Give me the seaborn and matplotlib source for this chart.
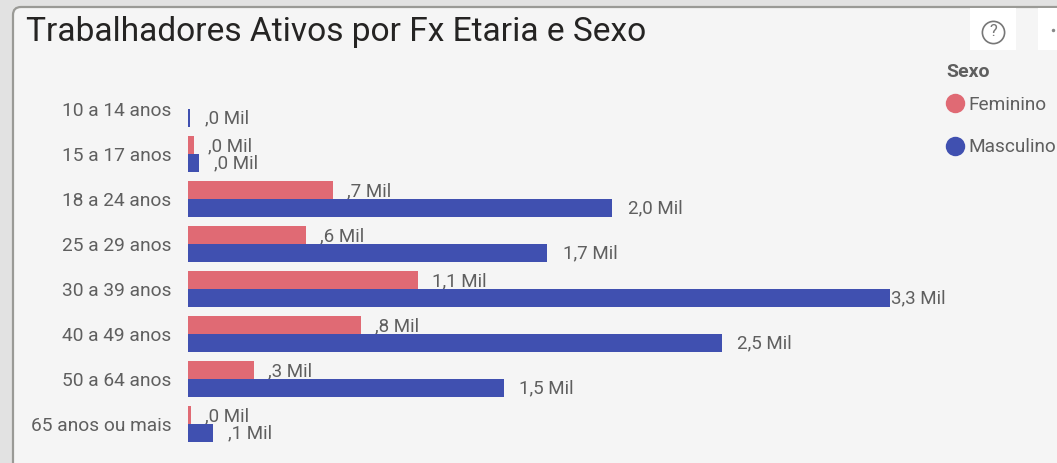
import matplotlib
matplotlib.use("Agg")
import matplotlib.pyplot as plt
import pandas as pd
import seaborn as sns
from matplotlib.lines import Line2D
from matplotlib.patches import FancyBboxPatch, Rectangle

categories = ["10 a 14 anos", "15 a 17 anos", "18 a 24 anos", "25 a 29 anos",
              "30 a 39 anos", "40 a 49 anos", "50 a 64 anos", "65 anos ou mais"]
feminino = [0.0, 0.028, 0.68, 0.555, 1.08, 0.815, 0.31, 0.014]
masculino = [0.009, 0.052, 1.995, 1.69, 3.30, 2.51, 1.485, 0.118]
fem_labels = ["", ",0 Mil", ",7 Mil", ",6 Mil", "1,1 Mil", ",8 Mil", ",3 Mil", ",0 Mil"]
masc_labels = [",0 Mil", ",0 Mil", "2,0 Mil", "1,7 Mil", "3,3 Mil", "2,5 Mil", "1,5 Mil", ",1 Mil"]
title = "Trabalhadores Ativos por Fx Etaria e Sexo"
FEM, MASC = "#E06A74", "#4050B0"
BG, OUTER, TXT = "#F5F5F5", "#E2E2E2", "#5F5F5F"

W, H = 1057, 463
sns.set_theme(style="white")
plt.rcParams["font.family"] = ["Roboto", "DejaVu Sans"]
fig = plt.figure(figsize=(W / 100, H / 100), dpi=100, facecolor=OUTER)

def fx(p): return p / W
def fy(p): return 1 - p / H

fig.add_artist(FancyBboxPatch((13, -20), 1100, H + 20 - 7, boxstyle="round,pad=0,rounding_size=8",
                              transform=None, fc=BG, ec="#9A9A96", lw=1.6))
fig.add_artist(Rectangle((970, H - 50), 46, 42, transform=None, fc="white", ec="none"))
fig.add_artist(Rectangle((1038, H - 50), 30, 42, transform=None, fc="white", ec="none"))

# axes: px 188..1030 horizontally, 80..455 vertically
px_left, px_right, px_top, px_bot = 188, 1030, 80, 455
ax = fig.add_axes([fx(px_left), fy(px_bot), (px_right - px_left) / W, (px_bot - px_top) / H], zorder=5)
ax.patch.set_alpha(0)

df = pd.DataFrame({"Faixa": categories * 2,
                   "Valor": feminino + masculino,
                   "Sexo": ["Feminino"] * 8 + ["Masculino"] * 8})
sns.barplot(data=df, y="Faixa", x="Valor", hue="Sexo", order=categories, orient="h",
            palette={"Feminino": FEM, "Masculino": MASC}, width=0.8, gap=0,
            saturation=1, legend=False, ax=ax, zorder=3, linewidth=0)
scale = 212.7
ax.set_xlim(0, (px_right - px_left) / scale)
ax.set_ylim((px_bot - 109) / 45, (px_top - 109) / 45)
for s in ax.spines.values():
    s.set_visible(False)
ax.set_xlabel(""); ax.set_ylabel("")
ax.set_xticks([])
ax.tick_params(axis="y", length=0, pad=12, labelsize=13.8, labelcolor=TXT)

# female labels sit under the male bars
for i, (f, l) in enumerate(zip(feminino, fem_labels)):
    ax.annotate(l, (f, i - 0.2), xytext=(10, -1.3), textcoords="offset points", va="center",
                fontsize=13.5, color=TXT, zorder=2)
# the longest bar's label is pushed back against the bar end
for i, (m, l) in enumerate(zip(masculino, masc_labels)):
    pad = 1 if m == max(masculino) else 11
    ax.annotate(l, (m, i + 0.2), xytext=(pad, 0), textcoords="offset points", va="center",
                fontsize=13.5, color=TXT, zorder=4)

fig.text(fx(26), fy(32), title, fontsize=24.1, color="#252423", va="center", ha="left")
fig.text(fx(946), fy(72), "Sexo", fontsize=14, fontweight="bold", color=TXT, va="center")

handles = [Line2D([], [], ls="", marker="o", ms=14, mfc=c, mec="none") for c in (FEM, MASC)]
leg = fig.legend(handles, ["Feminino", "Masculino"], loc="upper left",
                 bbox_to_anchor=(fx(941), fy(94)), frameon=False, fontsize=13.7,
                 labelcolor=TXT, labelspacing=1.28, handletextpad=0.05, handlelength=1.3,
                 borderpad=0.1, borderaxespad=0)

# help icon
fig.add_artist(Line2D([fx(993)], [fy(32)], ls="", marker="o", ms=16, mfc="none", mec="#777777", mew=1.2))
fig.text(fx(993), fy(32), "?", fontsize=12, color="#777777", ha="center", va="center")
fig.add_artist(Line2D([fx(1053)], [fy(30)], ls="", marker="o", ms=2.5, mfc="#888888", mec="none"))

fig.savefig("out.png", dpi=100, facecolor=OUTER)
